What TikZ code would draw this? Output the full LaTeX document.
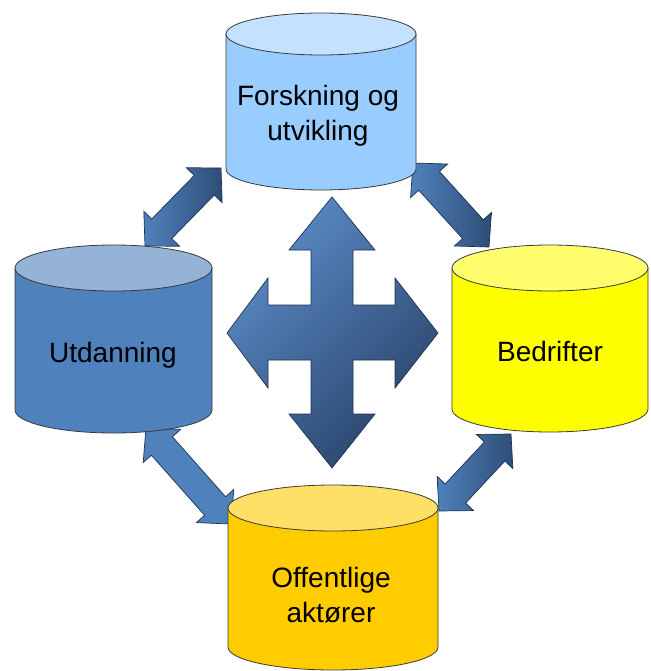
\documentclass[tikz,border=0pt]{standalone}
\usepackage{fontspec}
\setmainfont{Liberation Sans}
\usetikzlibrary{calc}
\definecolor{fbody}{HTML}{99CCFF}
\definecolor{ftop}{HTML}{C4E1FF}
\definecolor{ubody}{HTML}{4F81BD}
\definecolor{utop}{HTML}{95B3D7}
\definecolor{bbody}{HTML}{FFFF00}
\definecolor{btop}{HTML}{FFFF6E}
\definecolor{obody}{HTML}{FFCC00}
\definecolor{otop}{HTML}{FFE066}
\definecolor{arlight}{HTML}{5B8BC7}
\definecolor{ardark}{HTML}{29446A}
\definecolor{arline}{HTML}{1E3350}
\definecolor{cline}{HTML}{3A3A3A}
\tikzset{
  cylline/.style={draw=cline,line width=0.8pt,line join=round},
  bigarrow/.style={draw=arline,line width=0.7pt,line join=miter,top color=arlight,bottom color=ardark,shading angle=45},
  diagarrow/.style={draw=arline,line width=0.7pt,line join=miter,left color=ubody,right color=ardark!85!ubody},
  flatarrow/.style={draw=arline,line width=0.7pt,line join=miter,fill=ubody},
  lbl/.style={inner sep=0pt,align=center,font=\fontsize{28}{35}\selectfont}
}
% cx rx ytop ybot ry body top
\newcommand\mycyl[7]{%
  \draw[cylline,fill=#6] (#1-#2,#3) -- (#1-#2,#4)
    arc[start angle=180,end angle=360,x radius=#2pt,y radius=#5pt] -- (#1+#2,#3) -- cycle;
  \draw[cylline,fill=#7] (#1,#3) ellipse[x radius=#2pt,y radius=#5pt];
}
% tipA tipB style name
\newcommand\dblarr[4]{%
  \coordinate (#4a) at #1;
  \coordinate (#4b) at #2;
  \coordinate (#4p) at ($(#4a)!24pt!(#4b)$);
  \coordinate (#4q) at ($(#4b)!24pt!(#4a)$);
  \draw[#3] (#4a) -- ($(#4p)!25pt!90:(#4b)$) -- ($(#4p)!14pt!90:(#4b)$)
    -- ($(#4q)!14pt!-90:(#4a)$) -- ($(#4q)!25pt!-90:(#4a)$) -- (#4b)
    -- ($(#4q)!25pt!90:(#4a)$) -- ($(#4q)!14pt!90:(#4a)$)
    -- ($(#4p)!14pt!-90:(#4b)$) -- ($(#4p)!25pt!-90:(#4b)$) -- cycle;
}
\begin{document}
\begin{tikzpicture}[x=1pt,y=-1pt]
\useasboundingbox (0,0) rectangle (650,671);
% diagonal arrows
\dblarr{(145,246)}{(221,168)}{diagarrow}{tl}
\dblarr{(413,163)}{(489,247)}{diagarrow}{tr}
\dblarr{(146,428)}{(231,524)}{flatarrow}{bl}
\dblarr{(439,511)}{(511,434)}{diagarrow}{br}
% central four-way arrow
\draw[bigarrow] (332,197) -- (375,250) -- (353,250) -- (353,305) -- (395,305) -- (395,278)
  -- (438,333) -- (395,388) -- (395,360) -- (353,360) -- (353,414) -- (375,414)
  -- (332,468) -- (289,414) -- (311,414) -- (311,360) -- (268,360) -- (268,388)
  -- (227,333) -- (268,278) -- (268,305) -- (311,305) -- (311,250) -- (289,250) -- cycle;
% cylinders
\mycyl{321}{95}{34}{169}{21}{fbody}{ftop}
\mycyl{113.5}{98.5}{268}{410}{23}{ubody}{utop}
\mycyl{550}{98}{268}{409}{23}{bbody}{btop}
\mycyl{333}{105}{508}{647}{23}{obody}{otop}
% labels
\node[lbl] (fou) at (318,116) {Forskning og\\utvikling};
\node[lbl] (utd) at (113,355) {Utdanning};
\node[lbl] (bed) at (550,351) {Bedrifter};
\node[lbl] (off) at (331,595) {Offentlige\\aktører};
\end{tikzpicture}
\end{document}
